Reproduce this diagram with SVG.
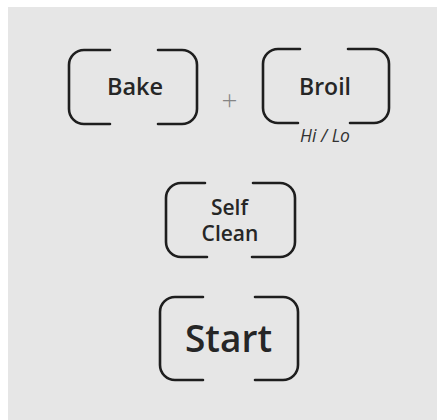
<svg xmlns="http://www.w3.org/2000/svg" width="437" height="420" viewBox="0 0 437 420">
<style>
.br{fill:none;stroke:#1e1e1e;stroke-width:2.6;stroke-linecap:round}
.lbl{font-family:"Open Sans","DejaVu Sans",sans-serif;fill:#262626;text-anchor:middle;font-weight:600}
.sub{font-family:"Open Sans","DejaVu Sans",sans-serif;fill:#333;text-anchor:middle;font-style:italic;font-weight:400;font-size:17.5px}
</style>
<rect x="0" y="0" width="437" height="420" fill="#ffffff"/>
<rect x="8" y="7" width="429" height="413" fill="#e6e6e6"/>
<g id="bake">
<path class="br" d="M110,50 H84 A15,15 0 0 0 69,65 V109 A15,15 0 0 0 84,124 H110"/>
<path class="br" d="M158,50 H182 A15,15 0 0 1 197,65 V109 A15,15 0 0 1 182,124 H158"/>
<text class="lbl" x="135" y="95" font-size="23.5">Bake</text>
</g>
<g id="plus">
<text x="229.5" y="110" font-family="Open Sans, sans-serif" font-size="28" font-weight="300" fill="#858585" text-anchor="middle">+</text>
</g>
<g id="broil">
<path class="br" d="M300,49 H278 A15,15 0 0 0 263,64 V108 A15,15 0 0 0 278,123 H298"/>
<path class="br" d="M348,49 H374 A15,15 0 0 1 389,64 V108 A15,15 0 0 1 374,123 H350"/>
<text class="lbl" x="325" y="95" font-size="23">Broil</text>
<text class="sub" x="325" y="142">Hi / Lo</text>
</g>
<g id="self-clean">
<path class="br" d="M205,183 H181 A15,15 0 0 0 166,198 V242 A15,15 0 0 0 181,257 H207"/>
<path class="br" d="M253,183 H280 A15,15 0 0 1 295,198 V242 A15,15 0 0 1 280,257 H252"/>
<text class="lbl" x="229.5" y="215" font-size="21">Self</text>
<text class="lbl" x="230" y="241" font-size="21">Clean</text>
</g>
<g id="start">
<path class="br" d="M203,297 H175 A15,15 0 0 0 160,312 V365 A15,15 0 0 0 175,380 H203"/>
<path class="br" d="M255,297 H283 A15,15 0 0 1 298,312 V365 A15,15 0 0 1 283,380 H255"/>
<text class="lbl" x="228.5" y="352" font-size="37">Start</text>
</g>
<g id="connectors"/>
</svg>
